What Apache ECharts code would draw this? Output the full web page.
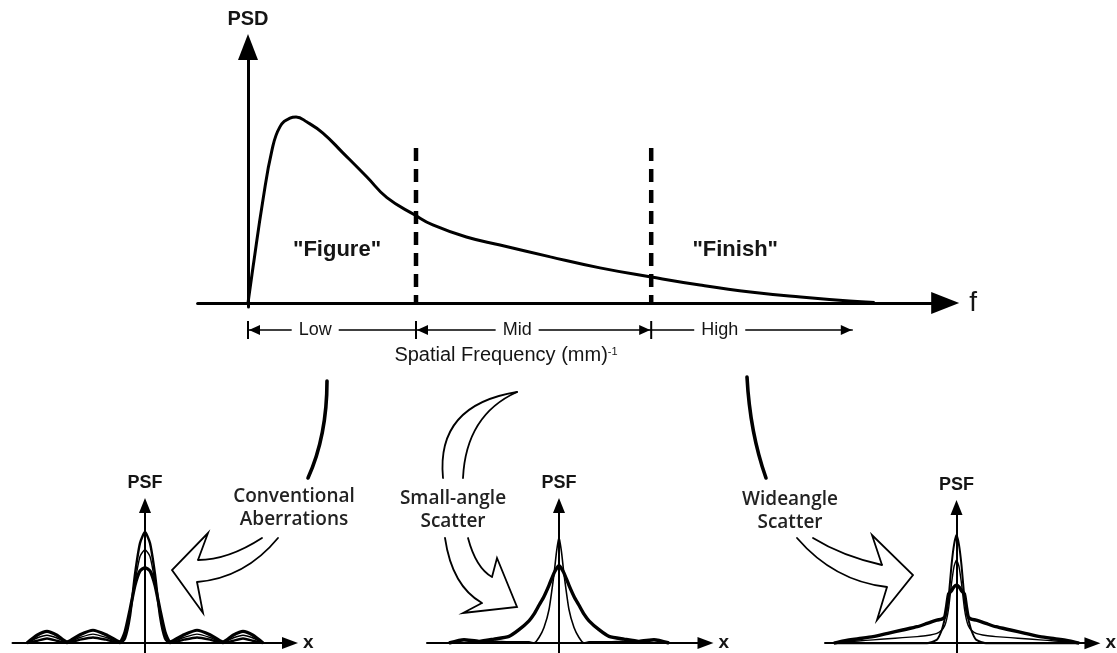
<!DOCTYPE html>
<html>
<head>
<meta charset="utf-8">
<script src="https://cdn.jsdelivr.net/npm/echarts@6/dist/echarts.min.js"></script>
<style>
  html, body { margin: 0; padding: 0; background: #fff; }
  #chart { width: 1117px; height: 653px; }
</style>
</head>
<body>
<div id="chart"></div>
<script>
// ---- Power spectral density curve (arbitrary units) ----
const psdFreq  = [0, 0.30, 0.89, 1.43, 1.90, 2.50, 2.86, 3.51, 4.46, 5.65, 7.08, 8.27, 9.94, 11.0, 13.0, 15.0, 18.0, 20.95, 24.0, 26.9, 29.9, 32.9, 35.8, 37.3];
const psdValue = [0, 13.4, 38.4, 57.1, 65.7, 69.0, 69.4, 67.5, 63.4, 56.0, 47.0, 39.3, 32.8, 29.1, 24.6, 21.6, 17.2, 13.1, 9.7, 6.7, 4.1, 2.2, 0.7, 0.2];

// Frequency bands: edges and names
const bandEdges = [0, 10, 24, 36];
const bandNames = ['Low', 'Mid', 'High'];
const dividerHeight = 57.8;

// Region labels placed in PSD data coordinates
const regionLabels = ['"Figure"', '"Finish"'];
const regionFreq = [5.3, 29.0];
const regionLevel = [19.8, 19.8];

// ---- Point spread functions ----
// Conventional aberrations (Airy-like pattern)
const psf1X         = [-23.6, -21.6, -19.6, -17.6, -15.6, -13, -10.4, -7.8, -5, -4, -3, -2, -1, 0, 1, 2, 3, 4, 5, 7.8, 10.4, 13, 15.6, 17.6, 19.6, 21.6, 23.6];
const psf1Ideal     = [0, 0.02, 0.04, 0.02, 0, 0.03, 0.05, 0.03, 0, 0.04, 0.24, 0.62, 0.90, 1.00, 0.90, 0.62, 0.24, 0.04, 0, 0.03, 0.05, 0.03, 0, 0.02, 0.04, 0.02, 0];
const psf1Mild      = [0, 0.045, 0.07, 0.045, 0.005, 0.05, 0.08, 0.05, 0.005, 0.07, 0.27, 0.55, 0.78, 0.84, 0.78, 0.55, 0.27, 0.07, 0.005, 0.05, 0.08, 0.05, 0.005, 0.045, 0.07, 0.045, 0];
const psf1Aberrated = [0, 0.07, 0.105, 0.07, 0.01, 0.075, 0.115, 0.075, 0.01, 0.10, 0.30, 0.52, 0.65, 0.68, 0.65, 0.52, 0.30, 0.10, 0.01, 0.075, 0.115, 0.075, 0.01, 0.07, 0.105, 0.07, 0];

// Small-angle scatter
const psf2X       = [-22, -19, -16, -13, -10, -8, -6, -5, -4, -3, -2, -1, -0.5, 0, 0.5, 1, 2, 3, 4, 5, 6, 8, 10, 13, 16, 19, 22];
const psf2Ideal   = [0, 0.025, 0.01, 0.015, 0.01, 0.01, 0.01, 0, 0.05, 0.14, 0.30, 0.62, 0.82, 0.955, 0.82, 0.62, 0.30, 0.14, 0.05, 0, 0.01, 0.01, 0.01, 0.015, 0.01, 0.025, 0];
const psf2Scatter = [0, 0.03, 0.015, 0.035, 0.06, 0.12, 0.20, 0.26, 0.34, 0.42, 0.52, 0.63, 0.67, 0.70, 0.67, 0.63, 0.52, 0.42, 0.34, 0.26, 0.20, 0.12, 0.06, 0.035, 0.015, 0.03, 0];

// Wide-angle scatter
const psf3X       = [-25, -23, -20, -17, -14, -11, -8, -6, -4, -3, -2.4, -2, -1.6, -1, -0.5, 0, 0.5, 1, 1.6, 2, 2.4, 3, 4, 6, 8, 11, 14, 17, 20, 23, 25];
const psf3Ideal   = [0, 0, 0, 0, 0, 0, 0, 0, 0.03, 0.12, 0.22, 0.30, 0.42, 0.72, 0.90, 0.99, 0.90, 0.72, 0.42, 0.30, 0.22, 0.12, 0.03, 0, 0, 0, 0, 0, 0, 0, 0];
const psf3Medium  = [0, 0.01, 0.02, 0.03, 0.04, 0.05, 0.06, 0.07, 0.09, 0.12, 0.16, 0.22, 0.32, 0.55, 0.70, 0.76, 0.70, 0.55, 0.32, 0.22, 0.16, 0.12, 0.09, 0.07, 0.06, 0.05, 0.04, 0.03, 0.02, 0.01, 0];
const psf3Scatter = [0, 0.02, 0.04, 0.06, 0.09, 0.12, 0.15, 0.18, 0.21, 0.22, 0.24, 0.34, 0.45, 0.48, 0.515, 0.53, 0.515, 0.48, 0.45, 0.34, 0.24, 0.22, 0.21, 0.18, 0.15, 0.12, 0.09, 0.06, 0.04, 0.02, 0];

// Arrow captions
const arrowCaptions = ['Conventional\nAberrations', 'Small-angle\nScatter', 'Wideangle\nScatter'];

const INK = '#000';
const TEXT = '#151515';
const SANS = '"Liberation Sans", Arial, sans-serif';

const chart = echarts.init(document.getElementById('chart'), null, { renderer: 'canvas' });
const pairs = (xs, ys) => xs.map((x, i) => [x, ys[i]]);

const hidden = { axisTick: { show: false }, axisLabel: { show: false }, splitLine: { show: false } };

function psfX(gi, min, max) {
  return Object.assign({
    gridIndex: gi, type: 'value', min, max,
    axisLine: { onZero: true, symbol: ['none', 'triangle'], symbolSize: [12, 16], lineStyle: { color: INK, width: 2 } },
    name: 'x', nameLocation: 'end', nameGap: 13,
    nameTextStyle: { fontFamily: SANS, fontWeight: 'bold', fontSize: 19, color: TEXT, verticalAlign: 'middle' }
  }, hidden);
}
function psfY(gi) {
  return Object.assign({
    gridIndex: gi, type: 'value', min: -0.09, max: 1.24,
    axisLine: { onZero: true, symbol: ['none', 'triangle'], symbolSize: [12, 15], lineStyle: { color: INK, width: 2 } },
    name: 'PSF', nameLocation: 'end', nameGap: 13,
    nameTextStyle: { fontFamily: SANS, fontWeight: 'bold', fontSize: 18, color: TEXT }
  }, hidden);
}
function curve(gi, xs, ys, width) {
  return {
    type: 'line', xAxisIndex: gi, yAxisIndex: gi, data: pairs(xs, ys),
    smooth: 0.2, symbol: 'none', silent: true,
    lineStyle: { color: INK, width: width, join: 'round' }
  };
}

const series = [
  {
    type: 'line', xAxisIndex: 0, yAxisIndex: 0, data: pairs(psdFreq, psdValue),
    smooth: 0.45, symbol: 'none', silent: true, lineStyle: { color: INK, width: 3 }
  }
];
// Dashed band dividers
bandEdges.slice(1, 3).forEach(e => {
  series.push({
    type: 'line', xAxisIndex: 0, yAxisIndex: 0, data: [[e, dividerHeight], [e, 0]],
    symbol: 'none', silent: true,
    lineStyle: { color: INK, width: 4.5, type: [13, 8], cap: 'butt' }
  });
});
series.push(curve(1, psf1X, psf1Mild, 1.4), curve(1, psf1X, psf1Ideal, 2.4), curve(1, psf1X, psf1Aberrated, 3.2));
series.push(curve(2, psf2X, psf2Ideal, 1.6), curve(2, psf2X, psf2Scatter, 3.4));
series.push(curve(3, psf3X, psf3Medium, 1.4), curve(3, psf3X, psf3Ideal, 2), curve(3, psf3X, psf3Scatter, 3.4));

chart.setOption({
  animation: false,
  backgroundColor: '#fff',
  grid: [
    { left: 197.6, top: 47, width: 747.6, height: 260 },
    { left: 12.5, top: 505.4, width: 277.5, height: 147.6 },
    { left: 427, top: 505.4, width: 278.5, height: 147.6 },
    { left: 825, top: 507.4, width: 272.5, height: 147.6 }
  ],
  xAxis: [
    Object.assign({
      gridIndex: 0, type: 'value', min: -3, max: 41.5,
      axisLine: { onZero: true, symbol: ['none', 'triangle'], symbolSize: [22, 28], lineStyle: { color: INK, width: 3 } },
      name: 'f', nameLocation: 'end', nameGap: 24,
      nameTextStyle: { fontFamily: SANS, fontSize: 28, color: TEXT, verticalAlign: 'middle' }
    }, hidden),
    psfX(1, -26.5, 29), psfX(2, -26.4, 29.3), psfX(3, -26.8, 27.7)
  ],
  yAxis: [
    Object.assign({
      gridIndex: 0, type: 'value', min: -1.5, max: 95.5,
      axisLine: { onZero: true, symbol: ['none', 'triangle'], symbolSize: [20, 26], lineStyle: { color: INK, width: 3 } },
      name: 'PSD', nameLocation: 'end', nameGap: 18,
      nameTextStyle: { fontFamily: SANS, fontWeight: 'bold', fontSize: 20, color: TEXT }
    }, hidden),
    psfY(1), psfY(2), psfY(3)
  ],
  series: series
});

// ---- Annotations built from the PSD axis positions ----
const toPx = (v, y) => chart.convertToPixel({ gridIndex: 0 }, [v, y]);
const axisY = toPx(0, 0)[1];
const yb = axisY + 27;
const edgePx = bandEdges.map(v => toPx(v, 0)[0]);
const labelFrac = [0.4, 0.43, 0.34];
const g = [];
const seg = (x1, y1, x2, y2, w) => ({ type: 'line', silent: true, shape: { x1, y1, x2, y2 }, style: { stroke: INK, lineWidth: w } });
const head = (x, dir) => ({
  type: 'polygon', silent: true,
  shape: { points: [[x + dir, yb], [x + dir * 12, yb - 5], [x + dir * 12, yb + 5]] },
  style: { fill: INK }
});

for (let i = 0; i < bandNames.length; i++) {
  g.push(seg(edgePx[i], yb, edgePx[i + 1], yb, 1.6));
  g.push({
    type: 'text', silent: true, z: 10,
    x: edgePx[i] + labelFrac[i] * (edgePx[i + 1] - edgePx[i]), y: yb,
    style: {
      text: bandNames[i], fill: TEXT, backgroundColor: '#fff', padding: [0, 7],
      font: '18px "Liberation Sans Narrow", "Liberation Sans", Arial, sans-serif',
      align: 'center', verticalAlign: 'middle', textAlign: 'center', textVerticalAlign: 'middle'
    }
  });
}
[0, 1, 2].forEach(i => g.push(seg(edgePx[i], yb - 9, edgePx[i], yb + 9, 2)));
g.push(head(edgePx[0], 1), head(edgePx[1], 1), head(edgePx[2], -1), head(edgePx[3], -1));

g.push({
  type: 'text', silent: true, x: 506, y: yb + 26,
  style: {
    text: '{a|Spatial Frequency (mm)}{b|-1}',
    align: 'center', verticalAlign: 'middle', textAlign: 'center', textVerticalAlign: 'middle',
    rich: {
      a: { font: '20px "Liberation Sans Narrow", "Liberation Sans", Arial, sans-serif', fill: TEXT, color: TEXT },
      b: { font: '11px "Liberation Sans", Arial, sans-serif', fill: TEXT, color: TEXT, verticalAlign: 'top' }
    }
  }
});

regionLabels.forEach((t, i) => {
  const p = toPx(regionFreq[i], regionLevel[i]);
  g.push({
    type: 'text', silent: true, x: p[0], y: p[1],
    style: {
      text: t, fill: TEXT, font: 'bold 22px ' + SANS,
      align: 'center', verticalAlign: 'middle', textAlign: 'center', textVerticalAlign: 'middle'
    }
  });
});

// ---- Curved block arrows linking bands to PSFs ----
const lineW = 1.8;
const bez = (x1, y1, cx, cy, x2, y2, w) => ({
  type: 'bezierCurve', silent: true,
  shape: { x1, y1, x2, y2, cpx1: cx, cpy1: cy },
  style: { stroke: INK, lineWidth: w || lineW, fill: null, lineCap: 'round' }
});
const poly = pts => ({
  type: 'polyline', silent: true, shape: { points: pts },
  style: { stroke: INK, lineWidth: lineW, fill: null, lineJoin: 'miter' }
});

// Conventional aberrations arrow
g.push(
  bez(327, 381, 327, 436, 308, 478, 3.6),
  bez(262, 538, 228, 560, 198, 560),
  poly([[198, 560], [208, 533], [172, 570], [203, 613], [197, 582]]),
  bez(197, 582, 245, 578, 278, 538)
);
// Small-angle scatter arrow
g.push(
  bez(517, 392, 436, 405, 443, 478),
  bez(517, 392, 466, 415, 463, 478),
  bez(445, 538, 452, 586, 482, 603),
  poly([[482, 603], [463, 613], [517, 607], [497, 558], [492, 577]]),
  bez(492, 577, 476, 568, 468, 538)
);
// Wide-angle scatter arrow
g.push(
  bez(747, 377, 750, 433, 766, 478, 3.6),
  bez(797, 538, 834, 581, 887, 587),
  poly([[887, 587], [877, 620], [913, 575], [872, 535], [882, 565]]),
  bez(882, 565, 842, 556, 813, 538)
);

const captionPos = [[294, 508], [453, 510], [790, 511]];
arrowCaptions.forEach((t, i) => {
  g.push({
    type: 'text', silent: true, x: captionPos[i][0], y: captionPos[i][1],
    style: {
      text: t, fill: '#222', font: '600 19px "Open Sans", "Noto Sans", sans-serif', lineHeight: 23,
      align: 'center', verticalAlign: 'middle', textAlign: 'center', textVerticalAlign: 'middle'
    }
  });
});

chart.setOption({ graphic: { elements: g } });
</script>
</body>
</html>
